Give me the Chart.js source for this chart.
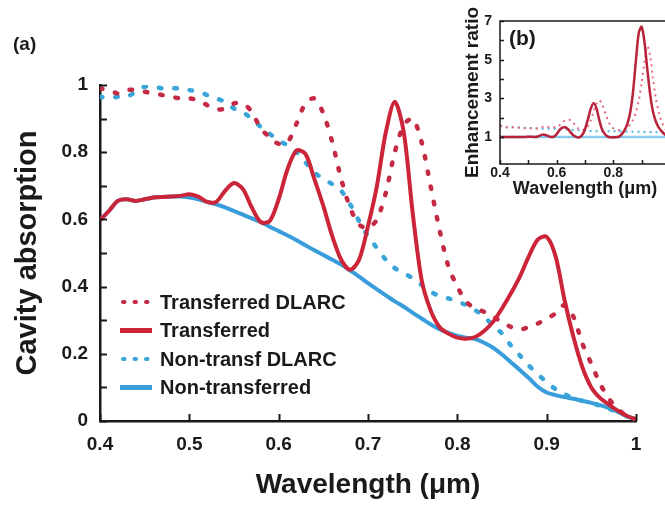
<!DOCTYPE html>
<html>
<head>
<meta charset="utf-8">
<script src="https://cdn.jsdelivr.net/npm/chart.js"></script>
<style>
  html, body { margin: 0; padding: 0; background: #fff; overflow: hidden; }
  #wrap { position: relative; width: 665px; height: 505px; overflow: hidden; }
  #main { position: absolute; left: 0; top: 0; }
  #inset { position: absolute; left: 440px; top: 0; }
  .lab { position: absolute; font: bold 19px Arial, "Liberation Sans", sans-serif; color: #1a1a1a; }
</style>
</head>
<body>
<div id="wrap">
  <canvas id="main" width="665" height="505"></canvas>
  <canvas id="inset" width="231" height="200"></canvas>
  <div class="lab" style="left:13px; top:33px;">(a)</div>
  <div class="lab" style="left:509px; top:26px; font-size:21px;">(b)</div>
</div>
<script>
// wavelength grid (µm)
const wavelengths = [
  0.40, 0.41, 0.42, 0.43, 0.44, 0.45, 0.46, 0.47, 0.48, 0.49,
  0.50, 0.51, 0.52, 0.53, 0.54, 0.55, 0.56, 0.57, 0.58, 0.59,
  0.60, 0.61, 0.62, 0.63, 0.64, 0.65, 0.66, 0.67, 0.68, 0.69,
  0.70, 0.71, 0.72, 0.73, 0.74, 0.75, 0.76, 0.77, 0.78, 0.79,
  0.80, 0.81, 0.82, 0.83, 0.84, 0.85, 0.86, 0.87, 0.88, 0.89,
  0.90, 0.91, 0.92, 0.93, 0.94, 0.95, 0.96, 0.97, 0.98, 0.99, 1.00
];

// (a) cavity absorption
const transferred = [
  0.598, 0.625, 0.655, 0.660, 0.655, 0.660, 0.665, 0.667, 0.668, 0.670,
  0.675, 0.668, 0.652, 0.652, 0.685, 0.708, 0.690, 0.635, 0.592, 0.595,
  0.660, 0.750, 0.805, 0.795, 0.720, 0.640, 0.550, 0.480, 0.450, 0.480,
  0.580, 0.700, 0.860, 0.950, 0.860, 0.620, 0.420, 0.330, 0.280, 0.260,
  0.248, 0.245, 0.250, 0.268, 0.295, 0.335, 0.380, 0.430, 0.490, 0.540,
  0.548, 0.490, 0.360, 0.250, 0.160, 0.100, 0.068, 0.048, 0.030, 0.015, 0.005
];
const transferredDLARC = [
  0.990, 0.985, 0.975, 0.985, 0.985, 0.980, 0.975, 0.970, 0.965, 0.960,
  0.960, 0.955, 0.940, 0.928, 0.930, 0.945, 0.945, 0.920, 0.870, 0.845,
  0.825, 0.830, 0.885, 0.945, 0.960, 0.915, 0.830, 0.720, 0.635, 0.585,
  0.574, 0.600, 0.680, 0.800, 0.880, 0.900, 0.830, 0.700, 0.570, 0.460,
  0.400, 0.355, 0.335, 0.325, 0.310, 0.295, 0.280, 0.272, 0.280, 0.290,
  0.305, 0.320, 0.345, 0.310, 0.230, 0.170, 0.110, 0.065, 0.035, 0.015, 0.005
];
const nonTransferred = [
  0.598, 0.625, 0.655, 0.660, 0.655, 0.660, 0.665, 0.667, 0.668, 0.668,
  0.665, 0.660, 0.652, 0.645, 0.636, 0.625, 0.614, 0.603, 0.592, 0.578,
  0.565, 0.552, 0.538, 0.523, 0.508, 0.494, 0.480, 0.466, 0.448, 0.430,
  0.410, 0.392, 0.374, 0.356, 0.340, 0.322, 0.305, 0.288, 0.273, 0.262,
  0.253, 0.248, 0.244, 0.233, 0.218, 0.198, 0.175, 0.152, 0.128, 0.102,
  0.085, 0.077, 0.071, 0.066, 0.060, 0.054, 0.047, 0.038, 0.027, 0.014, 0.005
];
const nonTransfDLARC = [
  0.965, 0.960, 0.965, 0.965, 0.980, 0.995, 0.995, 0.990, 0.990, 0.990,
  0.985, 0.980, 0.970, 0.960, 0.950, 0.930, 0.918, 0.900, 0.875, 0.855,
  0.835, 0.820, 0.800, 0.770, 0.740, 0.720, 0.705, 0.685, 0.645, 0.595,
  0.550, 0.515, 0.480, 0.455, 0.440, 0.425, 0.405, 0.385, 0.372, 0.365,
  0.355, 0.345, 0.330, 0.310, 0.285, 0.260, 0.225, 0.195, 0.165, 0.140,
  0.115, 0.095, 0.080, 0.068, 0.060, 0.054, 0.045, 0.036, 0.026, 0.014, 0.005
];

// (b) enhancement ratio
const ratioTransferred = [
  1.00, 1.00, 1.00, 1.00, 1.00, 1.00, 1.00, 1.00, 1.00, 1.00,
  1.01, 1.01, 1.00, 1.01, 1.07, 1.12, 1.10, 1.05, 1.00, 1.02,
  1.15, 1.35, 1.48, 1.50, 1.40, 1.22, 1.07, 0.99, 0.98, 1.10,
  1.40, 1.90, 2.45, 2.75, 2.50, 1.90, 1.40, 1.15, 1.02, 0.98,
  0.98, 0.99, 1.02, 1.15, 1.35, 1.70, 2.30, 3.40, 5.00, 6.40,
  6.70, 5.90, 4.50, 3.20, 2.30, 1.80, 1.50, 1.30, 1.15, 1.05, 1.00
];
const ratioTransferredDLARC = [
  1.55, 1.55, 1.50, 1.50, 1.50, 1.50, 1.48, 1.47, 1.46, 1.45,
  1.45, 1.45, 1.44, 1.44, 1.46, 1.52, 1.55, 1.52, 1.48, 1.50,
  1.50, 1.60, 1.75, 1.85, 1.90, 1.85, 1.70, 1.50, 1.40, 1.35,
  1.40, 1.55, 1.85, 2.30, 2.70, 2.90, 2.70, 2.30, 1.90, 1.60,
  1.45, 1.38, 1.35, 1.35, 1.40, 1.50, 1.65, 1.90, 2.30, 2.90,
  3.80, 4.90, 5.70, 5.20, 4.00, 3.00, 2.30, 1.80, 1.50, 1.30, 1.20
];
const ratioNonTransfDLARC = [
  1.60, 1.55, 1.50, 1.50, 1.50, 1.50, 1.50, 1.49, 1.48, 1.47,
  1.47, 1.46, 1.45, 1.44, 1.43, 1.42, 1.42, 1.42, 1.42, 1.42,
  1.42, 1.41, 1.40, 1.39, 1.38, 1.37, 1.36, 1.35, 1.34, 1.33,
  1.33, 1.32, 1.31, 1.30, 1.30, 1.30, 1.30, 1.30, 1.30, 1.30,
  1.30, 1.29, 1.28, 1.28, 1.28, 1.28, 1.28, 1.27, 1.27, 1.27,
  1.27, 1.26, 1.26, 1.26, 1.26, 1.25, 1.25, 1.25, 1.25, 1.25, 1.25
];
const ratioNonTransferred = wavelengths.map(() => 1.0);

const labels = ['Transferred DLARC', 'Transferred', 'Non-transf DLARC', 'Non-transferred'];

const RED = '#cc2539';
const RED_DOT = '#c42a44';
const BLUE = '#3a9ddb';
const BLUE_DOT = '#3aa5d8';
const INK = '#1a1a1a';
const FONT = 'Arial, "Liberation Sans", sans-serif';

Chart.defaults.font.family = FONT;
Chart.defaults.color = INK;

const pts = (ys) => wavelengths.map((x, i) => ({ x: x, y: ys[i] }));

// ticks drawn inward along left and bottom axes, optional box
const inwardTicks = {
  id: 'inwardTicks',
  afterDraw(chart, args, opts) {
    const { ctx, chartArea: a, scales } = chart;
    ctx.save();
    ctx.strokeStyle = INK;
    ctx.lineWidth = opts.width;
    ctx.beginPath();
    scales.x.ticks.forEach(t => {
      const px = Math.round(scales.x.getPixelForValue(t.value)) + 0.5;
      ctx.moveTo(px, a.bottom);
      ctx.lineTo(px, a.bottom - opts.len);
    });
    scales.y.ticks.forEach(t => {
      const py = Math.round(scales.y.getPixelForValue(t.value)) + 0.5;
      ctx.moveTo(a.left, py);
      ctx.lineTo(a.left + opts.len, py);
    });
    ctx.stroke();
    if (opts.box) {
      ctx.lineWidth = opts.boxWidth;
      ctx.strokeRect(a.left, a.top, a.right - a.left, a.bottom - a.top);
    }
    ctx.restore();
  }
};

// legend drawn inside the plot, lower left
const innerLegend = {
  id: 'innerLegend',
  afterDraw(chart, args, opts) {
    if (!opts.show) return;
    const { ctx, chartArea: a } = chart;
    ctx.save();
    ctx.font = 'bold 20px ' + FONT;
    ctx.textBaseline = 'middle';
    opts.order.forEach((di, k) => {
      const ds = chart.data.datasets[di];
      const dotted = ds.borderDash.length > 0;
      const y = a.bottom - opts.fromBottom + k * opts.step;
      const x0 = a.left + opts.left;
      ctx.strokeStyle = ds.borderColor;
      ctx.lineWidth = dotted ? 4 : 5;
      ctx.lineCap = dotted ? 'round' : 'butt';
      ctx.setLineDash(dotted ? [1.5, 10] : []);
      ctx.beginPath();
      ctx.moveTo(x0 + (dotted ? 3 : 0), y);
      ctx.lineTo(x0 + opts.sample, y);
      ctx.stroke();
      ctx.setLineDash([]);
      ctx.fillStyle = INK;
      ctx.fillText(ds.label, x0 + opts.sample + 8, y + 1);
    });
    ctx.restore();
  }
};

new Chart(document.getElementById('main'), {
  type: 'line',
  data: {
    datasets: [
      { label: labels[1], data: pts(transferred), borderColor: RED, borderWidth: 4, borderDash: [] },
      { label: labels[0], data: pts(transferredDLARC), borderColor: RED_DOT, borderWidth: 4.5, borderDash: [2.5, 13], borderCapStyle: 'round' },
      { label: labels[2], data: pts(nonTransfDLARC), borderColor: BLUE_DOT, borderWidth: 4.5, borderDash: [2.5, 13], borderCapStyle: 'round' },
      { label: labels[3], data: pts(nonTransferred), borderColor: BLUE, borderWidth: 4, borderDash: [] }
    ]
  },
  options: {
    responsive: false,
    animation: false,
    elements: { point: { radius: 0 }, line: { tension: 0.3 } },
    layout: { padding: { top: 85, right: 29, bottom: 0, left: 0 } },
    plugins: {
      legend: { display: false },
      tooltip: { enabled: false },
      inwardTicks: { len: 7, width: 2, box: false },
      innerLegend: { show: true, order: [1, 0, 2, 3], left: 20, sample: 32, fromBottom: 119, step: 28.5 }
    },
    scales: {
      x: {
        type: 'linear', min: 0.4, max: 1.0,
        afterFit: s => { s.height = 84; },
        grid: { display: false, drawTicks: false },
        border: { display: true, color: INK, width: 2.5 },
        ticks: {
          stepSize: 0.1, autoSkip: false, padding: 12,
          font: { size: 19, weight: 'bold' }, color: INK,
          callback: v => String(+v.toFixed(1))
        },
        title: { display: true, text: 'Wavelength (μm)', font: { size: 28, weight: 'bold' }, color: INK, padding: { top: 0, bottom: 3 } }
      },
      y: {
        type: 'linear', min: 0, max: 1,
        afterFit: s => { s.width = 100; },
        grid: { display: false, drawTicks: false },
        border: { display: true, color: INK, width: 2.5 },
        ticks: {
          stepSize: 0.1, autoSkip: false, padding: 12,
          font: { size: 19, weight: 'bold' }, color: INK,
          callback: v => (Math.round(v * 10) % 2 ? '' : String(+v.toFixed(1)))
        },
        title: { display: true, text: 'Cavity absorption', font: { size: 29, weight: 'bold' }, color: INK, padding: { top: 11, bottom: 0 } }
      }
    }
  },
  plugins: [inwardTicks, innerLegend]
});

new Chart(document.getElementById('inset'), {
  type: 'line',
  data: {
    datasets: [
      { label: labels[1], data: pts(ratioTransferred), borderColor: '#b8223a', borderWidth: 2.5, borderDash: [] },
      { label: labels[0], data: pts(ratioTransferredDLARC), borderColor: '#e56a7c', borderWidth: 2, borderDash: [2, 4] },
      { label: labels[2], data: pts(ratioNonTransfDLARC), borderColor: '#4fb2e2', borderWidth: 2, borderDash: [2, 4] },
      { label: labels[3], data: pts(ratioNonTransferred), borderColor: '#86ccec', borderWidth: 2.5, borderDash: [] }
    ]
  },
  options: {
    responsive: false,
    animation: false,
    elements: { point: { radius: 0 }, line: { tension: 0.3 } },
    layout: { padding: { top: 21, right: 0, bottom: 0, left: 0 } },
    plugins: {
      legend: { display: false },
      tooltip: { enabled: false },
      inwardTicks: { len: 4, width: 1.5, box: true, boxWidth: 1.5 },
      innerLegend: { show: false }
    },
    scales: {
      x: {
        type: 'linear', min: 0.4, max: 1.0,
        afterFit: s => { s.height = 36; },
        grid: { display: false, drawTicks: false },
        border: { display: false },
        ticks: {
          stepSize: 0.1, autoSkip: false, padding: 1,
          font: { size: 14, weight: 'bold' }, color: INK,
          // the 1.0 label falls off the picture's right edge
          callback: v => (Math.round(v * 10) % 2 || v > 0.95 ? '' : String(+v.toFixed(1)))
        },
        title: { display: true, text: 'Wavelength (μm)', font: { size: 18, weight: 'bold' }, color: INK, padding: { top: 0, bottom: 0 } }
      },
      y: {
        type: 'linear', min: -0.4, max: 7,
        afterFit: s => { s.width = 60; },
        grid: { display: false, drawTicks: false },
        border: { display: false },
        ticks: {
          autoSkip: false, padding: 8,
          font: { size: 14, weight: 'bold' }, color: INK,
          callback: v => (v % 2 === 1 ? String(v) : '')
        },
        afterBuildTicks: s => { s.ticks = [1, 2, 3, 4, 5, 6, 7].map(v => ({ value: v })); },
        title: { display: true, text: 'Enhancement ratio', font: { size: 19, weight: 'bold' }, color: INK, padding: { top: 21, bottom: 0 } }
      }
    }
  },
  plugins: [inwardTicks]
});
</script>
</body>
</html>
